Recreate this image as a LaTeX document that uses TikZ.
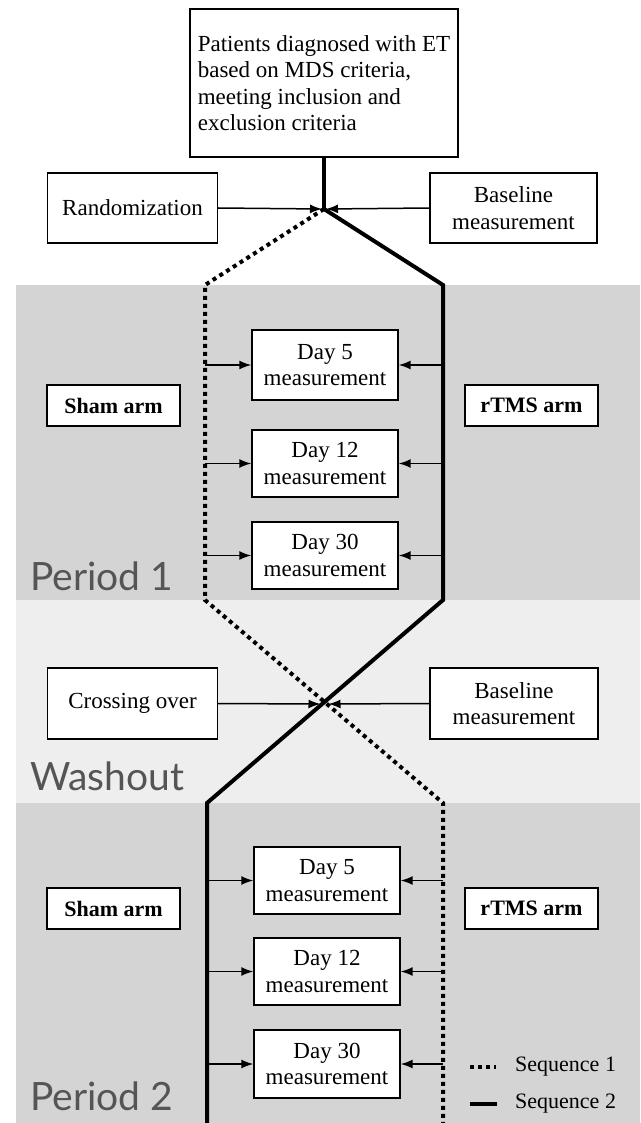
\documentclass[tikz,border=0pt]{standalone}
\usepackage{fontspec}
\setmainfont{Liberation Serif}
\newfontfamily\labfont{Lato}
\usetikzlibrary{arrows.meta}
\definecolor{bandA}{HTML}{D4D4D4}
\definecolor{bandB}{HTML}{EEEEEE}
\definecolor{labgray}{HTML}{555555}
\tikzset{
  box/.style={draw=black, line width=1.4pt, fill=white, inner sep=0pt, align=center,
    font=\fontsize{23}{26.5}\selectfont},
  armbox/.style={box, font=\fontsize{22}{26}\selectfont\bfseries, minimum width=133pt, minimum height=41pt},
  daybox/.style={box, minimum width=146pt, minimum height=68pt},
  seqone/.style={line width=4pt, dash pattern=on 4pt off 4pt},
  seqtwo/.style={line width=4pt},
  feed/.style={line width=1.5pt, -{Latex[length=12pt,width=9pt]}},
  periodlab/.style={font=\labfont\fontsize{39}{39}\selectfont, text=labgray, anchor=base west, inner sep=0pt},
  legtext/.style={font=\fontsize{22}{26}\selectfont, anchor=west, inner sep=0pt}
}
\begin{document}
\begin{tikzpicture}[x=1pt,y=-1pt]
\useasboundingbox (0,0) rectangle (640,1123);
% bands
\fill[bandA] (16,285) rectangle (640,600);
\fill[bandB] (16,600) rectangle (640,803);
\fill[bandA] (16,803) rectangle (640,1123);
% band labels
\node[periodlab] (p1) at (30,590) {Period 1};
\node[periodlab] (wo) at (30,790) {Washout};
\node[periodlab] (p2) at (30,1110) {Period 2};
% coordinates of sequence paths
\coordinate (J) at (324,209);
\coordinate (A1) at (205,285);
\coordinate (A2) at (205,600);
\coordinate (A3) at (443,803);
\coordinate (A4) at (443,1123);
\coordinate (B1) at (443,285);
\coordinate (B2) at (443,600);
\coordinate (B3) at (207,803);
\coordinate (B4) at (207,1123);
\coordinate (X) at (324.5,704);
% top box
\node[box, minimum width=268pt, minimum height=148pt, align=left] (top) at (324,83)
  {Patients diagnosed with ET\\based on MDS criteria,\\meeting inclusion and\\exclusion criteria};
\node[box, minimum width=170pt, minimum height=70pt] (rand) at (132.5,208) {Randomization};
\node[box, minimum width=167pt, minimum height=70pt] (base1) at (513.5,208) {Baseline\\measurement};
% sequences
\draw[seqtwo] (J |- top.south) -- (J);
\draw[seqone] (J) -- (A1) -- (A2) -- (A3) -- (A4);
\draw[seqtwo, line join=miter] (J) -- (B1) -- (B2) -- (B3) -- (B4);
\draw[feed] (rand.east) -- ([xshift=-2pt]J);
\draw[feed] (base1.west) -- ([xshift=2pt]J);
% period 1
\node[armbox] (sham1) at (113.5,405.5) {Sham arm};
\node[armbox] (rtms1) at (531.5,405.5) {rTMS arm};
\node[daybox, minimum height=70pt] (d5a) at (325,365) {Day 5\\measurement};
\node[daybox, minimum height=67pt] (d12a) at (325,463.5) {Day 12\\measurement};
\node[daybox, minimum height=67pt] (d30a) at (325,555.5) {Day 30\\measurement};
\foreach \n in {d5a,d12a,d30a}{
  \draw[feed] (A1 |- \n.west) -- (\n.west);
  \draw[feed] (B1 |- \n.east) -- (\n.east);
}
% washout
\node[box, minimum width=170pt, minimum height=71pt] (cross) at (132.5,703.5) {Crossing over};
\node[box, minimum width=168pt, minimum height=71pt] (base2) at (514,703.5) {Baseline\\measurement};
\draw[feed] (cross.east) -- ([xshift=-4pt]X);
\draw[feed] (base2.west) -- ([xshift=4pt]X);
% period 2
\node[armbox] (sham2) at (113.5,908.5) {Sham arm};
\node[armbox] (rtms2) at (531.5,908.5) {rTMS arm};
\node[daybox, minimum height=67pt] (d5b) at (327,880.5) {Day 5\\measurement};
\node[daybox, minimum height=67pt] (d12b) at (327,971.5) {Day 12\\measurement};
\node[daybox, minimum height=68pt] (d30b) at (327,1064) {Day 30\\measurement};
\foreach \n in {d5b,d12b,d30b}{
  \draw[feed] (B3 |- \n.west) -- (\n.west);
  \draw[feed] (A3 |- \n.east) -- (\n.east);
}
% legend
\coordinate (L1a) at (470,1067);
\coordinate (L1b) at (496,1067);
\coordinate (L2a) at (470,1104);
\coordinate (L2b) at (497,1104);
\draw[seqone] (L1a) -- (L1b);
\draw[seqtwo] (L2a) -- (L2b);
\node[legtext] (s1) at (515,1067) {Sequence 1};
\node[legtext] (s2) at (515,1104) {Sequence 2};
\end{tikzpicture}
\end{document}
